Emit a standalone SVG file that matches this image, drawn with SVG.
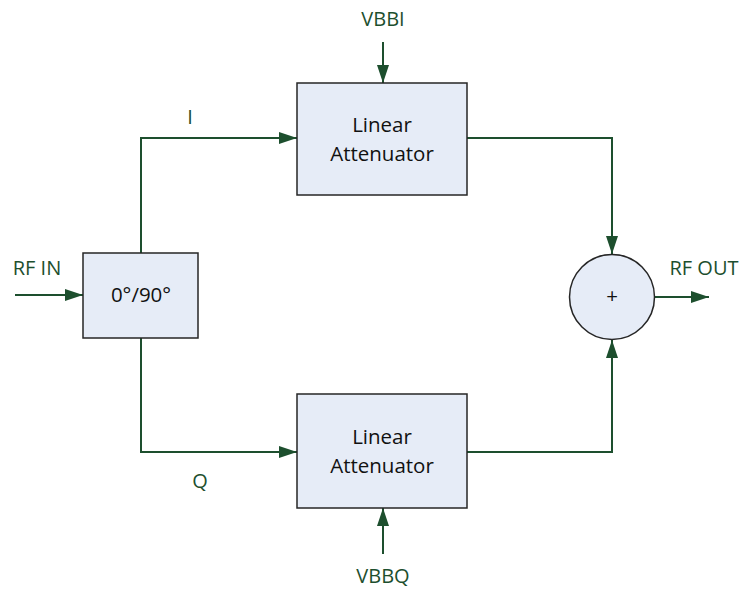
<svg xmlns="http://www.w3.org/2000/svg" width="742" height="589" viewBox="0 0 742 589">
<style>
.box{fill:#e6ecf7;stroke:#262626;stroke-width:1.5}
.wire{fill:none;stroke:#1d4f2e;stroke-width:2}
.lbl{font-family:"Open Sans","Liberation Sans",sans-serif;font-size:20px;fill:#1d4f2e}
.txt{font-family:"Open Sans","Liberation Sans",sans-serif;font-size:20.5px;fill:#111}
</style>
<defs>
<marker id="ah" viewBox="0 0 18 12" refX="18" refY="6" markerWidth="18" markerHeight="12" markerUnits="userSpaceOnUse" orient="auto">
<path d="M0,0 L18,6 L0,12 z" fill="#1d4f2e"/>
</marker>
</defs>
<rect width="742" height="589" fill="#fff"/>
<g id="connectors">
<line class="wire" x1="15" y1="295" x2="83" y2="295" marker-end="url(#ah)"/>
<polyline class="wire" points="141,253 141,138 297,138" marker-end="url(#ah)"/>
<polyline class="wire" points="141,338 141,452 297,452" marker-end="url(#ah)"/>
<line class="wire" x1="383" y1="42" x2="383" y2="83" marker-end="url(#ah)"/>
<line class="wire" x1="383" y1="554" x2="383" y2="508" marker-end="url(#ah)"/>
<polyline class="wire" points="467,138 612,138 612,254" marker-end="url(#ah)"/>
<polyline class="wire" points="467,452 612,452 612,340" marker-end="url(#ah)"/>
<line class="wire" x1="655" y1="297" x2="709" y2="297" marker-end="url(#ah)"/>
<text class="lbl" x="190" y="124" text-anchor="middle">I</text>
<text class="lbl" x="200" y="488" text-anchor="middle">Q</text>
</g>
<g id="rfin"><text class="lbl" x="37" y="275" text-anchor="middle">RF IN</text></g>
<g id="rfout"><text class="lbl" x="704" y="275" text-anchor="middle">RF OUT</text></g>
<g id="vbbi"><text class="lbl" x="383" y="26" text-anchor="middle">VBBI</text></g>
<g id="vbbq"><text class="lbl" x="383" y="583" text-anchor="middle">VBBQ</text></g>
<g id="splitter">
<rect class="box" x="83" y="253" width="115" height="85"/>
<text class="txt" x="141" y="302" text-anchor="middle">0°/90°</text>
</g>
<g id="attI">
<rect class="box" x="297" y="83" width="170" height="112"/>
<text class="txt" x="382" y="132" text-anchor="middle">Linear</text>
<text class="txt" x="382" y="161" text-anchor="middle">Attenuator</text>
</g>
<g id="attQ">
<rect class="box" x="297" y="394" width="170" height="114"/>
<text class="txt" x="382" y="444" text-anchor="middle">Linear</text>
<text class="txt" x="382" y="473" text-anchor="middle">Attenuator</text>
</g>
<g id="sum">
<circle class="box" cx="612" cy="297" r="42.5"/>
<text class="txt" x="612" y="303" text-anchor="middle" font-size="17">+</text>
</g>
</svg>
